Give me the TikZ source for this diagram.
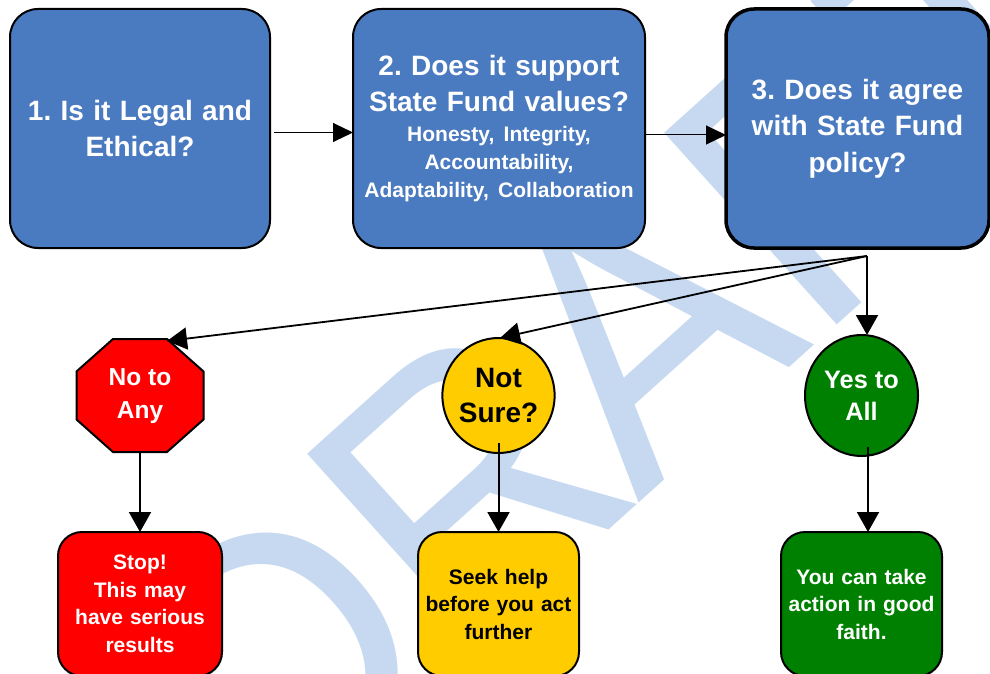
\documentclass[tikz,border=0pt]{standalone}
\usepackage{fontspec}
\setmainfont{Liberation Sans}
\usetikzlibrary{arrows.meta,shapes.geometric}
\definecolor{boxblue}{HTML}{4A7ABF}
\definecolor{wmblue}{HTML}{C6D9F1}
\definecolor{stopred}{HTML}{FF0000}
\definecolor{sureyellow}{HTML}{FFCC00}
\definecolor{yesgreen}{HTML}{008000}
\begin{document}
\frenchspacing
\begin{tikzpicture}[x=1pt,y=-1pt,
  every node/.style={inner sep=0pt, outer sep=0pt},
  wmtext/.style={text=wmblue, font=\fontsize{375}{375}\selectfont, rotate=42, xscale=0.95, anchor=base west},
  qbox/.style={draw=black, line width=2pt, fill=boxblue, rounded corners=28pt, text=white, align=center, font=\bfseries\fontsize{28}{36.5}\selectfont, minimum height=239pt},
  rbox/.style={draw=black, line width=2pt, rounded corners=24pt, align=center, font=\bfseries\fontsize{21}{27.5}\selectfont, minimum width=162pt, minimum height=144pt, text width=156pt},
  octshape/.style={draw=black, line width=2pt, fill=stopred, line join=miter},
  flow/.style={draw=black, line width=1pt, -{Triangle[length=20pt,width=19pt]}},
  conn/.style={draw=black, line width=2pt, -{Triangle[length=20pt,width=22pt]}},
]
\useasboundingbox (0,0) rectangle (990,674);
\clip (0,0) rectangle (990,674);
\node[wmtext] (wm) at (267,838) {DR\kern-15pt AFT};

\node[qbox, minimum width=260pt, text width=250pt] (q1) at (140,128.5) {1. Is it Legal and\\Ethical?};
\node[qbox, minimum width=292pt, text width=286pt] (q2) at (499,128.5)
  {{2. Does it support\\State Fund values?\par}\vspace{2pt}{\fontsize{21}{28}\selectfont Honesty, Integrity,\\Accountability,\\Adaptability, Collaboration\par}};
\node[qbox, line width=3.5pt, minimum width=263pt, text width=250pt] (q3) at (857.5,128.5) {3. Does it agree\\with State Fund\\policy?};

% octagon (stop sign)
\coordinate (octc) at (140,395.5);
\draw[octshape] ([shift={(-27,-56.5)}]octc) -- ([shift={(27,-56.5)}]octc)
  -- ([shift={(63.5,-24)}]octc) -- ([shift={(63.5,24)}]octc)
  -- ([shift={(27,56.5)}]octc) -- ([shift={(-27,56.5)}]octc)
  -- ([shift={(-63.5,24)}]octc) -- ([shift={(-63.5,-24)}]octc) -- cycle;
\node[minimum width=127pt, minimum height=113pt, text=white, align=center, font=\bfseries\fontsize{24.5}{33}\selectfont] (oct) at ([yshift=-1pt]octc) {No to\\Any};

\node[ellipse, draw=black, line width=2pt, fill=sureyellow, minimum width=107pt, minimum height=115pt, align=center, font=\bfseries\fontsize{28}{35}\selectfont] (sure) at (498.5,395.5) {Not\\Sure?};
\node[ellipse, draw=black, line width=2pt, fill=yesgreen, text=white, minimum width=113pt, minimum height=121pt, align=center, font=\bfseries\fontsize{25.3}{32}\selectfont] (yes) at (861.5,395.5) {Yes to\\All};

\node[rbox, fill=stopred, text=white, minimum width=164pt] (stop) at (140,604) {Stop!\\This may\\have serious\\results};
\node[rbox, fill=sureyellow, text=black, minimum width=161pt] (seek) at (498.5,604) {Seek help\\before you act\\further};
\node[rbox, fill=yesgreen, text=white, minimum width=161pt] (good) at (861.5,604) {You can take\\action in good\\faith.};

\draw[flow, shorten <=4pt] ([yshift=-4pt]q1.east) -- ([yshift=-4pt]q2.west);
\draw[flow] ([yshift=-6.5pt]q2.east) -- ([yshift=-6.5pt]q3.west);

\coordinate (J) at (867,256);
\draw[conn, line width=1.8pt] (J) -- ([xshift=27pt,yshift=-1pt]oct.north);
\draw[conn, line width=1.8pt] (J) -- ([xshift=1.5pt]sure.north);
\draw[conn] (J) -- (J |- yes.north);
\draw[conn] (stop.north |- octc) ++(0,56.5) -- (stop.north);
\draw[conn] ([yshift=10pt]sure.south) -- (sure.south |- seek.north);
\draw[conn] ([xshift=6.5pt,yshift=9pt]yes.south) -- ([xshift=6.5pt]yes.south |- good.north);
\end{tikzpicture}
\end{document}
